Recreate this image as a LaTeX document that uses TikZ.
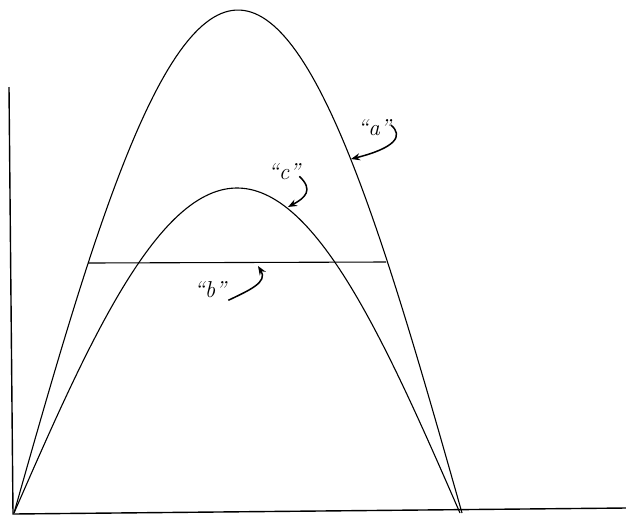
\documentclass[tikz,border=0pt]{standalone}
\usetikzlibrary{arrows.meta}
\begin{document}
\begin{tikzpicture}[x=1pt,y=-1pt,
  curve/.style={line width=1.1pt,black},
  axisline/.style={line width=1.4pt,black},
  lbl/.style={inner sep=0pt,font=\fontsize{23}{26}\selectfont\itshape},
  pointer/.style={line width=1.5pt,-{Stealth[length=9pt,width=7pt]}}]
\useasboundingbox (0,0) rectangle (626,515);
% axes
\coordinate (ytop) at (9,87);
\coordinate (orig) at (13,514);
\coordinate (xend) at (626,508);
\draw[axisline] (ytop) -- (orig) -- (xend);
% curve a (tall arch)
\draw[curve] plot[domain=0:180,samples=120] ({14+2.48889*\x},{513-503*sin(\x)});
% curve c (low arch)
\draw[curve] plot[domain=0:180,samples=120] ({14+2.47778*\x},{513-325*sin(\x)});
% line b
\coordinate (bL) at (88,263);
\coordinate (bR) at (386,262);
\draw[curve] (bL) -- (bR);
% labels
\node[lbl] (la) at (374,128) {``a''};
\node[lbl] (lc) at (284,172) {``c''};
\node[lbl] (lb) at (210,290) {``b''};
% pointers
\coordinate (pa) at (351,159);
\coordinate (pc) at (288,207);
\coordinate (pb) at (258,266);
\draw[pointer] ([yshift=3pt]la.east) .. controls (404,136) and (395,148) .. (pa);
\draw[pointer] ([xshift=-1pt,yshift=4pt]lc.south east) .. controls (314,190) and (305,198) .. (pc);
\draw[pointer] ([xshift=2pt,yshift=-2pt]lb.south east) .. controls (250,290) and (268,282) .. (pb);
\end{tikzpicture}
\end{document}
